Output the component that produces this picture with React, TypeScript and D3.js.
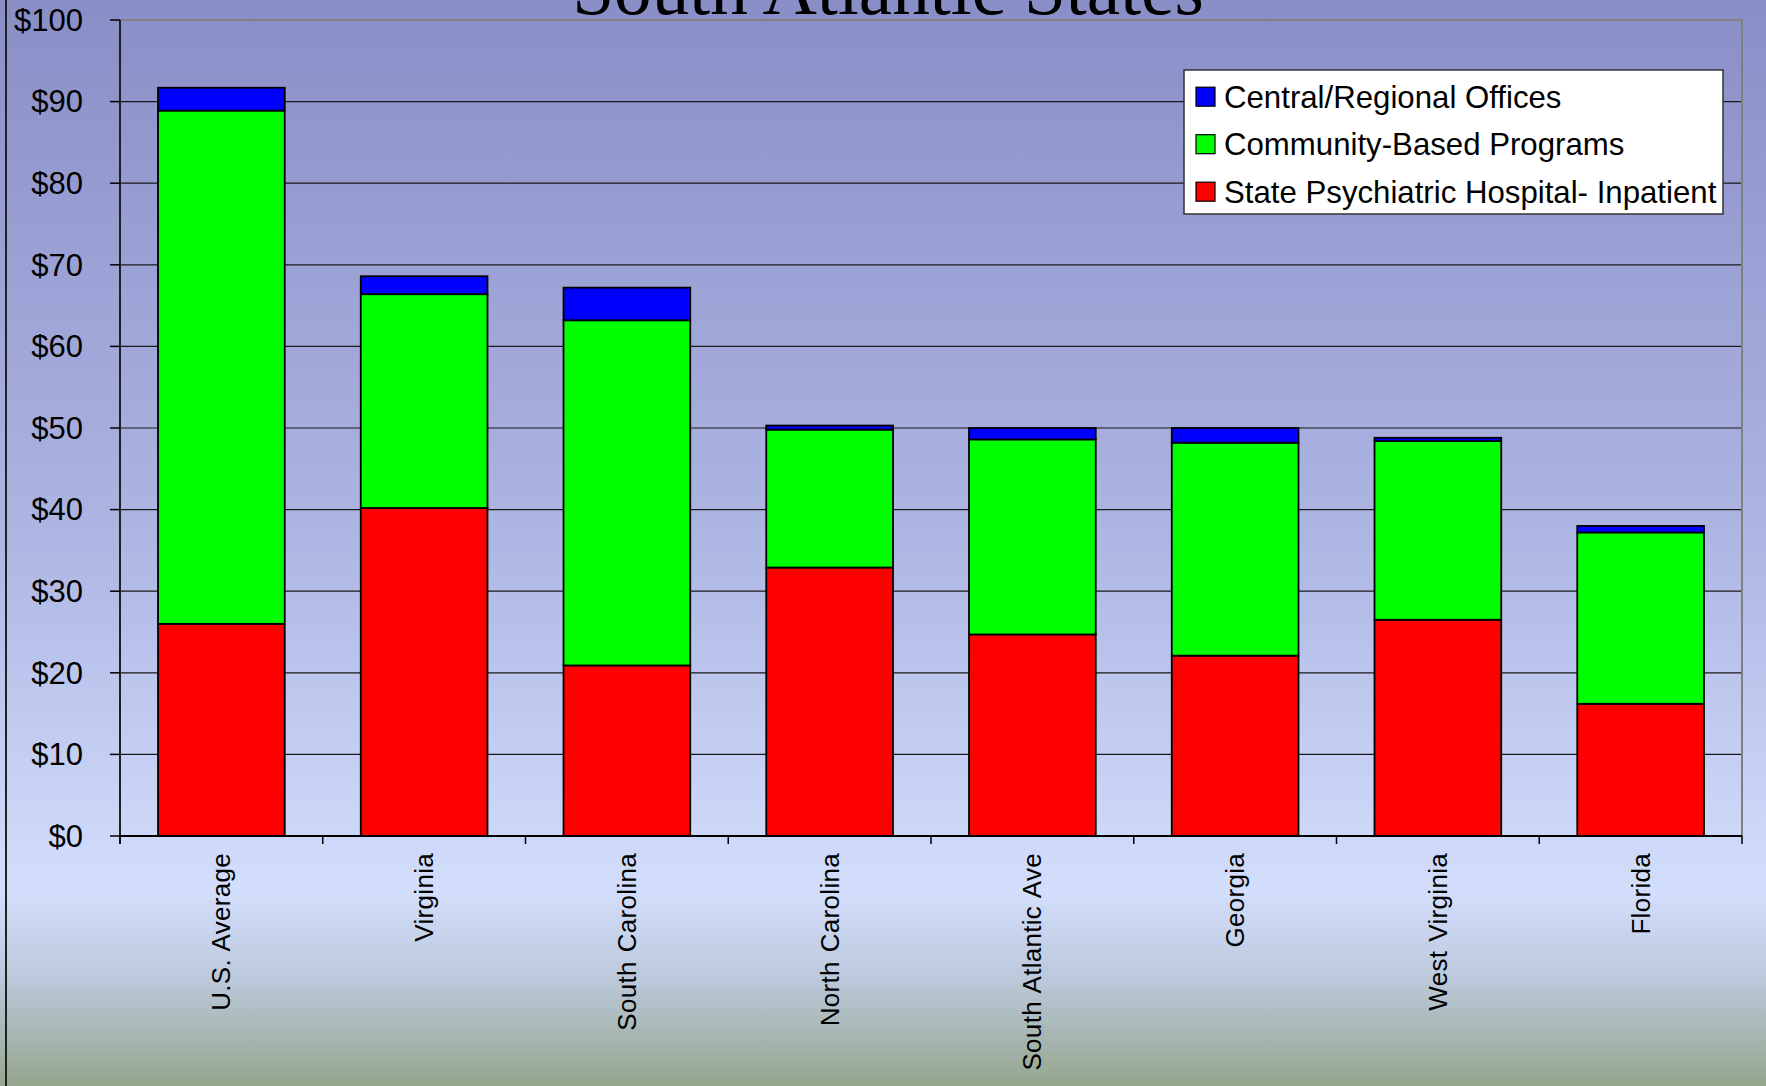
import React from "react";
import * as d3 from "d3";

const categories = [
  "U.S. Average",
  "Virginia",
  "South Carolina",
  "North Carolina",
  "South Atlantic Ave",
  "Georgia",
  "West Virginia",
  "Florida",
];
const hospitalInpatient = [26.0, 40.2, 20.9, 32.9, 24.7, 22.1, 26.5, 16.2];
const communityPrograms = [62.9, 26.2, 42.3, 16.9, 23.9, 26.1, 21.9, 21.0];
const centralOffices = [2.8, 2.2, 4.0, 0.5, 1.4, 1.8, 0.4, 0.8];
const yTicks = [0, 10, 20, 30, 40, 50, 60, 70, 80, 90, 100];

const seriesKeys = ["hospital", "community", "central"];
const seriesNames: Record<string, string> = {
  central: "Central/Regional Offices",
  community: "Community-Based Programs",
  hospital: "State Psychiatric Hospital- Inpatient",
};
const seriesColors: Record<string, string> = {
  hospital: "#FF0000",
  community: "#00FF00",
  central: "#0000FF",
};
const legendOrder = ["central", "community", "hospital"];

const W = 1766;
const H = 1086;
const M = { left: 120, right: 1742, top: 20, bottom: 836 };

export default function App() {
  const rows = categories.map((c, i) => ({
    cat: c,
    hospital: hospitalInpatient[i],
    community: communityPrograms[i],
    central: centralOffices[i],
  }));
  const stack = d3.stack<any>().keys(seriesKeys)(rows);

  const x = d3
    .scaleBand<string>()
    .domain(categories)
    .range([M.left, M.right])
    .paddingInner(0.375)
    .paddingOuter(0.1875);
  const bandStep = (M.right - M.left) / categories.length;
  const y = d3.scaleLinear().domain([0, 100]).range([M.bottom, M.top]);

  const sans = "'Liberation Sans', Arial, sans-serif";

  return (
    <svg
      width={W}
      height={H}
      style={{ position: "absolute", left: 0, top: 0, display: "block" }}
    >
      <defs>
        <linearGradient id="bg" x1="0" y1="0" x2="0" y2={H} gradientUnits="userSpaceOnUse">
          <stop offset="0" stopColor="#898EC7" />
          <stop offset="0.5" stopColor="#AEB6E3" />
          <stop offset="0.82" stopColor="#D3DEFC" />
          <stop offset="0.9" stopColor="#BCC9DC" />
          <stop offset="1" stopColor="#94A68D" />
        </linearGradient>
      </defs>
      <rect x={0} y={0} width={W} height={H} fill="url(#bg)" />
      <line x1={6} x2={6} y1={0} y2={H} stroke="#222" strokeWidth={2} />

      {/* title */}
      <text
        x={888}
        y={14}
        textAnchor="middle"
        fontFamily="'Liberation Serif', 'Times New Roman', serif"
        fontSize={75.3}
        fill="#000"
      >
        South Atlantic States
      </text>

      {/* gridlines */}
      {yTicks
        .filter((t) => t > 0 && t < 100)
        .map((t) => (
          <line key={"g" + t} x1={M.left} x2={M.right} y1={y(t)} y2={y(t)} stroke="#1a1a1a" strokeWidth={1.2} />
        ))}
      {/* plot border */}
      <rect
        x={M.left}
        y={M.top}
        width={M.right - M.left}
        height={M.bottom - M.top}
        fill="none"
        stroke="#808080"
        strokeWidth={2}
      />

      {/* bars */}
      {stack.map((s) => (
        <g key={s.key} fill={seriesColors[s.key]}>
          {s.map((d, i) => (
            <rect
              key={i}
              x={x(categories[i])}
              width={x.bandwidth()}
              y={y(d[1])}
              height={y(d[0]) - y(d[1])}
              stroke="#000"
              strokeWidth={1.8}
            />
          ))}
        </g>
      ))}

      {/* y axis */}
      <line x1={M.left} x2={M.left} y1={M.top} y2={M.bottom + 8} stroke="#000" strokeWidth={1.5} />
      {yTicks.map((t) => (
        <g key={"t" + t}>
          <line x1={M.left - 10} x2={M.left} y1={y(t)} y2={y(t)} stroke="#000" strokeWidth={1.5} />
          <text
            x={83}
            y={y(t)}
            dy="0.35em"
            textAnchor="end"
            fontFamily={sans}
            fontSize={31}
            fill="#000"
          >
            {"$" + t}
          </text>
        </g>
      ))}

      {/* x axis */}
      <line x1={M.left} x2={M.right} y1={M.bottom} y2={M.bottom} stroke="#000" strokeWidth={1.8} />
      {d3.range(categories.length + 1).map((i) => (
        <line
          key={"xt" + i}
          x1={M.left + i * bandStep}
          x2={M.left + i * bandStep}
          y1={M.bottom}
          y2={M.bottom + 8}
          stroke="#000"
          strokeWidth={1.5}
        />
      ))}
      {categories.map((c) => {
        const cx = (x(c) as number) + x.bandwidth() / 2;
        return (
          <text
            key={c}
            transform={`translate(${cx},${853}) rotate(-90)`}
            textAnchor="end"
            dy="0.35em"
            fontFamily={sans}
            fontSize={26}
            letterSpacing={0.3}
            wordSpacing={1.5}
            fill="#000"
          >
            {c}
          </text>
        );
      })}

      {/* legend */}
      <rect x={1184} y={70} width={539} height={144} fill="#fff" stroke="#333" strokeWidth={1.5} />
      {legendOrder.map((k, i) => {
        const cy = 96.7 + i * 47.5;
        return (
          <g key={k}>
            <rect x={1196} y={cy - 9.5} width={19} height={19} fill={seriesColors[k]} stroke="#000" strokeWidth={1.2} />
            <text x={1224} y={cy} dy="0.35em" fontFamily={sans} fontSize={31.2} fill="#000">
              {seriesNames[k]}
            </text>
          </g>
        );
      })}
    </svg>
  );
}
